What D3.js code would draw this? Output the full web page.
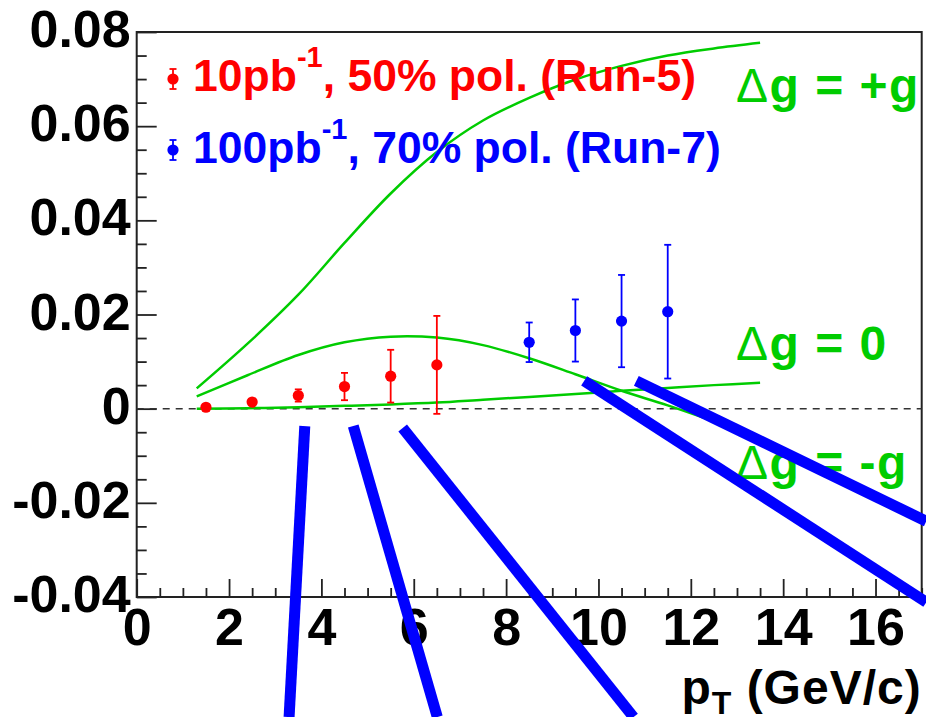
<!DOCTYPE html>
<html>
<head>
<meta charset="utf-8">
<script src="https://cdn.jsdelivr.net/npm/d3@7"></script>
<style>
  html, body { margin: 0; padding: 0; background: #fff; }
  svg { display: block; }
  text { font-family: "Liberation Sans", Arial, Helvetica, sans-serif; font-weight: bold; }
</style>
</head>
<body>
<svg id="chart" width="926" height="717"></svg>
<script>
// ---- data -------------------------------------------------------------
// projected A_LL points, Run-5 (red) and Run-7 (blue)
const run5PT  = [1.5, 2.5, 3.5, 4.5, 5.5, 6.5];
const run5ALL = [0.0003, 0.0014, 0.0028, 0.0047, 0.0069, 0.0093];
const run5Err = [0.0003, 0.0006, 0.0013, 0.0029, 0.0056, 0.0104];

const run7PT  = [8.5, 9.5, 10.5, 11.5];
const run7ALL = [0.0141, 0.0166, 0.0186, 0.0206];
const run7Err = [0.0042, 0.0066, 0.0098, 0.0142];

// theory curves, sampled on a common pT grid
const curvePT    = [1.3, 2.4, 3.5, 4.5, 5.5, 6.5, 7.5, 8.5, 9.5, 10.5, 11.5, 12.5, 13.5];
const curvePlusG = [0.0043, 0.0138, 0.0242, 0.0352, 0.0457, 0.0545, 0.0612, 0.0660, 0.0699, 0.0728, 0.0750, 0.0765, 0.0777];
const curveMid   = [0.0026, 0.0071, 0.0114, 0.0141, 0.0153, 0.0151, 0.0135, 0.0107, 0.0073, 0.0038, 0.0007, -0.0027, -0.0062];
const curveLow   = [0.0000, 0.0001, 0.0003, 0.0006, 0.0009, 0.0013, 0.0019, 0.0025, 0.0031, 0.0038, 0.0044, 0.0050, 0.0055];

// thick blue strokes overlaid on the plot: [pT0, A0, pT1, A1]
const blueStrokes = [
  [3.64, -0.0037, 3.30, -0.0655],
  [4.69, -0.0037, 6.51, -0.0655],
  [5.76, -0.0041, 10.76, -0.0655],
  [9.69, 0.0059, 17.10, -0.0411],
  [10.82, 0.0059, 17.10, -0.0239]
];

// axes
const xMajorTicks = [0, 2, 4, 6, 8, 10, 12, 14, 16];
const xTickLabels = ["0", "2", "4", "6", "8", "10", "12", "14", "16"];
const yMajorTicks = [-0.04, -0.02, 0, 0.02, 0.04, 0.06, 0.08];
const yTickLabels = ["-0.04", "-0.02", "0", "0.02", "0.04", "0.06", "0.08"];

// curve labels
const curveLabels = [
  { text: "g = +g", A: 0.0651 },
  { text: "g = 0",  A: 0.0104 },
  { text: "g = -g", A: -0.0149 }
];

// ---- drawing ----------------------------------------------------------
const svg = d3.select("#chart");
const frame = { left: 136.7, right: 921.7, top: 32, bottom: 597 };

const x = d3.scaleLinear().domain([0, 17]).range([frame.left, frame.right]);
const y = d3.scaleLinear().domain([-0.04, 0.08]).range([frame.bottom, frame.top]);

const GREEN = "#00cc00", RED = "#ff0000", BLUE = "#0000ff";

// frame box
svg.append("rect")
  .attr("x", frame.left).attr("y", frame.top)
  .attr("width", frame.right - frame.left).attr("height", frame.bottom - frame.top)
  .attr("fill", "none").attr("stroke", "#222").attr("stroke-width", 2);

// y axis: major ticks with labels
const yAxis = svg.append("g")
  .attr("transform", `translate(${frame.left},0)`)
  .call(d3.axisLeft(y)
    .tickValues(yMajorTicks)
    .tickSizeInner(-20).tickSizeOuter(0).tickPadding(6)
    .tickFormat((d, i) => yTickLabels[i]));
yAxis.select(".domain").remove();
yAxis.selectAll("line").attr("stroke", "#222").attr("stroke-width", 1.8);
yAxis.selectAll("text").attr("font-size", 52).attr("fill", "#000").attr("dy", "0.28em")
  .style("font-family", '"Liberation Sans", Arial, sans-serif').style("font-weight", "bold");

// y axis: minor ticks
const yMinor = d3.range(-0.04, 0.0801, 0.005).filter(v => Math.abs((v / 0.02) - Math.round(v / 0.02)) > 1e-6);
const yAxisMinor = svg.append("g")
  .attr("transform", `translate(${frame.left},0)`)
  .call(d3.axisLeft(y).tickValues(yMinor).tickSizeInner(-10).tickSizeOuter(0).tickFormat(""));
yAxisMinor.select(".domain").remove();
yAxisMinor.selectAll("line").attr("stroke", "#222").attr("stroke-width", 1.8);

// x axis: major ticks with labels
const xAxis = svg.append("g")
  .attr("transform", `translate(0,${frame.bottom})`)
  .call(d3.axisBottom(x)
    .tickValues(xMajorTicks)
    .tickSizeInner(-18).tickSizeOuter(0).tickPadding(11)
    .tickFormat((d, i) => xTickLabels[i]));
xAxis.select(".domain").remove();
xAxis.selectAll("line").attr("stroke", "#222").attr("stroke-width", 1.8);
xAxis.selectAll("text").attr("font-size", 52).attr("fill", "#000")
  .style("font-family", '"Liberation Sans", Arial, sans-serif').style("font-weight", "bold");

// x axis: minor ticks
const xMinor = d3.range(0, 17.01, 0.5).filter(v => v % 2 !== 0);
const xAxisMinor = svg.append("g")
  .attr("transform", `translate(0,${frame.bottom})`)
  .call(d3.axisBottom(x).tickValues(xMinor).tickSizeInner(-9).tickSizeOuter(0).tickFormat(""));
xAxisMinor.select(".domain").remove();
xAxisMinor.selectAll("line").attr("stroke", "#222").attr("stroke-width", 1.8);

// x axis title
const xTitle = svg.append("text")
  .attr("x", frame.right).attr("y", 704)
  .attr("text-anchor", "end").attr("font-size", 48).attr("letter-spacing", 1).attr("fill", "#000");
xTitle.append("tspan").text("p");
xTitle.append("tspan").attr("font-size", 32).attr("dy", 10).text("T");
xTitle.append("tspan").attr("dy", -10).text(" (GeV/c)");

// zero reference line
svg.append("line")
  .attr("x1", x(0)).attr("x2", x(17))
  .attr("y1", y(0)).attr("y2", y(0))
  .attr("stroke", "#333").attr("stroke-width", 1.5).attr("stroke-dasharray", "7,6");

// theory curves
const line = d3.line()
  .x(d => x(d[0])).y(d => y(d[1]))
  .curve(d3.curveCatmullRom.alpha(0.5));
[curvePlusG, curveMid, curveLow].forEach(vals => {
  svg.append("path")
    .datum(curvePT.map((p, i) => [p, vals[i]]))
    .attr("d", line)
    .attr("fill", "none").attr("stroke", GREEN).attr("stroke-width", 2.5);
});

// curve labels
curveLabels.forEach(l => {
  const t = svg.append("text")
    .attr("x", 736).attr("y", y(l.A))
    .attr("font-size", 48).attr("letter-spacing", 1.5).attr("fill", GREEN);
  t.append("tspan").style("font-weight", "normal").text("\u0394");
  t.append("tspan").text(l.text);
});

// data points with error bars
function drawSeries(pts, vals, errs, color) {
  const g = svg.append("g");
  const d = pts.map((p, i) => ({ p, v: vals[i], e: errs[i] }));
  g.selectAll("line.bar").data(d).join("line")
    .attr("x1", s => x(s.p)).attr("x2", s => x(s.p))
    .attr("y1", s => y(s.v - s.e)).attr("y2", s => y(s.v + s.e))
    .attr("stroke", color).attr("stroke-width", 1.8);
  ["lo", "hi"].forEach(side => {
    g.selectAll("line.cap-" + side).data(d).join("line")
      .attr("x1", s => x(s.p) - 3.5).attr("x2", s => x(s.p) + 3.5)
      .attr("y1", s => y(side === "lo" ? s.v - s.e : s.v + s.e))
      .attr("y2", s => y(side === "lo" ? s.v - s.e : s.v + s.e))
      .attr("stroke", color).attr("stroke-width", 1.8);
  });
  g.selectAll("circle").data(d).join("circle")
    .attr("cx", s => x(s.p)).attr("cy", s => y(s.v)).attr("r", 5.6)
    .attr("fill", color);
}
drawSeries(run5PT, run5ALL, run5Err, RED);
drawSeries(run7PT, run7ALL, run7Err, BLUE);

// legend
const legend = [
  { color: RED,  my: 79,  ty: 91,  main: "10pb",  rest: ", 50% pol. (Run-5)" },
  { color: BLUE, my: 150, ty: 163, main: "100pb", rest: ", 70% pol. (Run-7)" }
];
legend.forEach(l => {
  const g = svg.append("g");
  g.append("line").attr("x1", 173).attr("x2", 173).attr("y1", l.my - 10).attr("y2", l.my + 10)
    .attr("stroke", l.color).attr("stroke-width", 1.8);
  [-10, 10].forEach(o => g.append("line")
    .attr("x1", 169.5).attr("x2", 176.5).attr("y1", l.my + o).attr("y2", l.my + o)
    .attr("stroke", l.color).attr("stroke-width", 1.8));
  g.append("circle").attr("cx", 173).attr("cy", l.my).attr("r", 5.6).attr("fill", l.color);
  const t = g.append("text").attr("x", 193).attr("y", l.ty)
    .attr("font-size", 44.5).attr("fill", l.color);
  t.append("tspan").text(l.main);
  t.append("tspan").attr("font-size", 29).attr("dy", -24).text("-1");
  t.append("tspan").attr("dy", 24).text(l.rest);
});

// thick blue strokes on top
svg.append("g").selectAll("line").data(blueStrokes).join("line")
  .attr("x1", s => x(s[0])).attr("y1", s => y(s[1]))
  .attr("x2", s => x(s[2])).attr("y2", s => y(s[3]))
  .attr("stroke", BLUE).attr("stroke-width", 11).attr("stroke-linecap", "butt");
</script>
</body>
</html>
